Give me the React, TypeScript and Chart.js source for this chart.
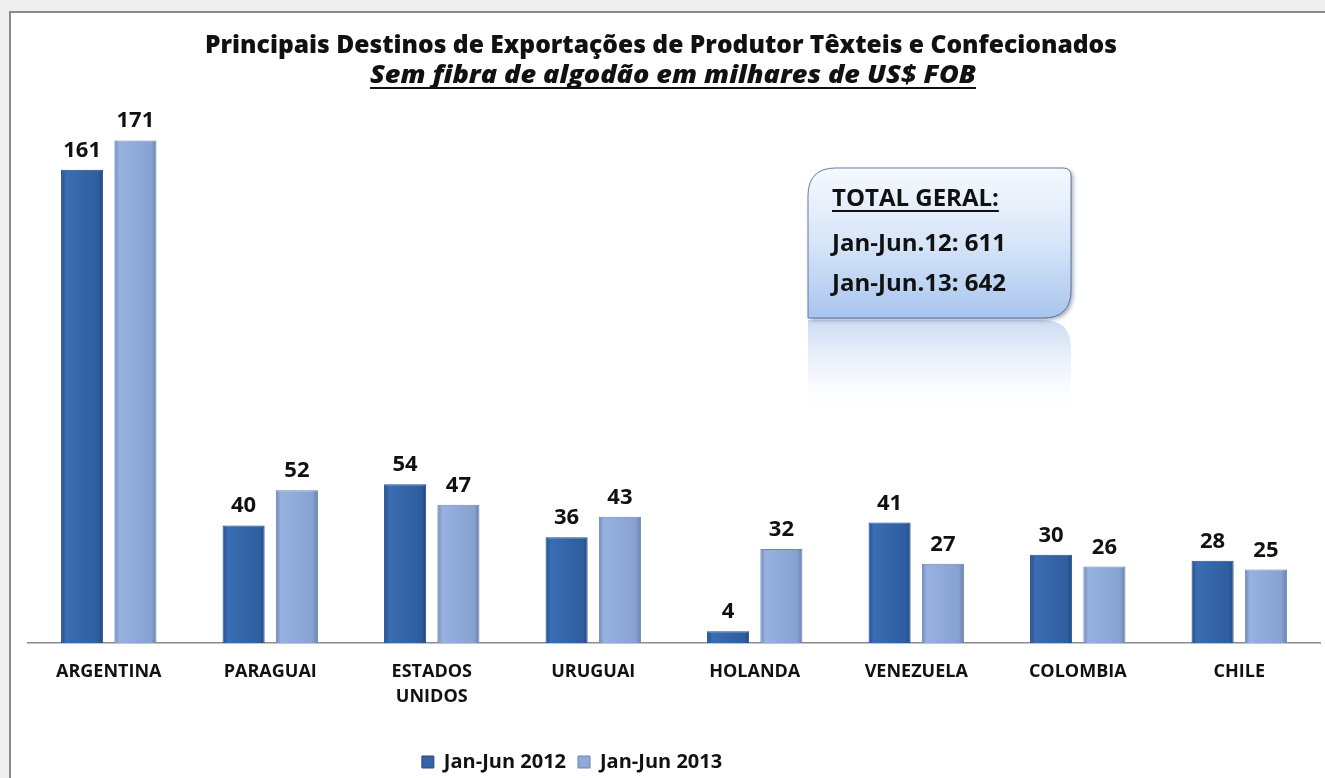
import React, { useEffect, useRef } from "react";
import { Chart, registerables } from "chart.js";

Chart.register(...registerables);

const categories: (string | string[])[] = [
  "ARGENTINA",
  "PARAGUAI",
  ["ESTADOS", "UNIDOS"],
  "URUGUAI",
  "HOLANDA",
  "VENEZUELA",
  "COLOMBIA",
  "CHILE",
];
const series2012 = [161, 40, 54, 36, 4, 41, 30, 28];
const series2013 = [171, 52, 47, 43, 32, 27, 26, 25];
const seriesNames = ["Jan-Jun 2012", "Jan-Jun 2013"];
const titleText = "Principais Destinos de Exportações de Produtor Têxteis e Confecionados";
const subtitleText = "Sem fibra de algodão em milhares de US$ FOB";
const totalTitle = "TOTAL GERAL:";
const totalLines = ["Jan-Jun.12: 611", "Jan-Jun.13: 642"];

const FONT = "'Open Sans', sans-serif";

function barGradient(ctx: any, dark: boolean) {
  const chart = ctx.chart;
  const x = chart.scales?.x;
  if (!x || !chart.chartArea) return dark ? "#3565A8" : "#8EA9D8";
  const c = x.getPixelForValue(ctx.dataIndex);
  const center = c + (dark ? -26.5 : 26.5);
  const half = 21;
  const g = chart.ctx.createLinearGradient(center - half, 0, center + half, 0);
  if (dark) {
    g.addColorStop(0, "#24508e");
    g.addColorStop(0.12, "#3a6db3");
    g.addColorStop(0.5, "#3465a8");
    g.addColorStop(0.88, "#2f5e9f");
    g.addColorStop(1, "#1f4780");
  } else {
    g.addColorStop(0, "#6d88b8");
    g.addColorStop(0.12, "#97b2df");
    g.addColorStop(0.5, "#8eaad9");
    g.addColorStop(0.88, "#87a2d1");
    g.addColorStop(1, "#6780ad");
  }
  return g;
}

function fitText(ctx: CanvasRenderingContext2D, text: string, left: number, right: number, y: number, underline: boolean) {
  const w = ctx.measureText(text).width;
  const sx = (right - left) / w;
  ctx.save();
  ctx.translate(left, y);
  ctx.scale(sx, 1);
  ctx.textAlign = "left";
  ctx.fillText(text, 0, 0);
  if (underline) ctx.fillRect(0, 4, w, 2);
  ctx.restore();
}

const decorPlugin = {
  id: "decor",
  afterLayout(chart: any) {
    if (chart.legend) {
      chart.legend.left -= 102;
      chart.legend.right -= 102;
    }
  },
  afterDatasetsDraw(chart: any) {
    const ctx = chart.ctx;
    ctx.save();
    ctx.font = `bold 22px ${FONT}`;
    ctx.fillStyle = "#111";
    ctx.textAlign = "center";
    ctx.textBaseline = "alphabetic";
    chart.data.datasets.forEach((ds: any, di: number) => {
      const meta = chart.getDatasetMeta(di);
      meta.data.forEach((bar: any, i: number) => {
        ctx.fillText(String(ds.data[i]), bar.x, bar.y - 13);
      });
    });
    ctx.restore();
  },
  afterDraw(chart: any) {
    const ctx = chart.ctx;
    ctx.save();
    ctx.fillStyle = "#111";
    ctx.textBaseline = "alphabetic";
    ctx.font = `800 24px ${FONT}`;
    fitText(ctx, titleText, 205, 1117, 53, false);
    ctx.font = `italic 800 24px ${FONT}`;
    fitText(ctx, subtitleText, 370, 976, 83, true);

    const bx = 808, by = 168, bw = 263, bh = 150;
    const pathBox = (y0: number, h: number) => {
      ctx.beginPath();
      ctx.moveTo(bx + 28, y0);
      ctx.lineTo(bx + bw - 8, y0);
      ctx.quadraticCurveTo(bx + bw, y0, bx + bw, y0 + 8);
      ctx.lineTo(bx + bw, y0 + h - 28);
      ctx.quadraticCurveTo(bx + bw, y0 + h, bx + bw - 28, y0 + h);
      ctx.lineTo(bx, y0 + h);
      ctx.lineTo(bx, y0 + 28);
      ctx.quadraticCurveTo(bx, y0, bx + 28, y0);
      ctx.closePath();
    };
    ctx.save();
    ctx.translate(0, 2 * (by + bh) + 2);
    ctx.scale(1, -1);
    pathBox(by, bh);
    const rg = ctx.createLinearGradient(0, by + bh, 0, by + bh - 95);
    rg.addColorStop(0, "rgba(160,190,232,0.55)");
    rg.addColorStop(0.6, "rgba(200,218,245,0.2)");
    rg.addColorStop(1, "rgba(255,255,255,0)");
    ctx.fillStyle = rg;
    ctx.fill();
    ctx.restore();
    ctx.save();
    ctx.shadowColor = "rgba(40,60,100,0.45)";
    ctx.shadowBlur = 4;
    ctx.shadowOffsetX = 2;
    ctx.shadowOffsetY = 2;
    pathBox(by, bh);
    const g = ctx.createLinearGradient(0, by, 0, by + bh);
    g.addColorStop(0, "#f6f9fe");
    g.addColorStop(0.5, "#d7e5f8");
    g.addColorStop(1, "#a8c5ee");
    ctx.fillStyle = g;
    ctx.fill();
    ctx.restore();
    pathBox(by, bh);
    ctx.strokeStyle = "rgba(70,95,140,0.8)";
    ctx.lineWidth = 1;
    ctx.stroke();

    ctx.fillStyle = "#111";
    ctx.textAlign = "left";
    ctx.font = `bold 24px ${FONT}`;
    ctx.fillText(totalTitle, 832, 206);
    const tw = ctx.measureText(totalTitle).width;
    ctx.fillRect(832, 210, tw, 2);
    ctx.fillText(totalLines[0], 832, 251);
    ctx.fillText(totalLines[1], 832, 291);
    ctx.restore();
  },
};

export default function App() {
  const ref = useRef<HTMLCanvasElement>(null);
  useEffect(() => {
    document.body.style.margin = "0";
    const chart = new Chart(ref.current!, {
      type: "bar",
      data: {
        labels: categories,
        datasets: [
          {
            label: seriesNames[0],
            data: series2012,
            backgroundColor: (c: any) => barGradient(c, true),
            borderColor: "#234a86",
            borderWidth: 1,
            categoryPercentage: 0.66,
            barPercentage: 0.79,
          },
          {
            label: seriesNames[1],
            data: series2013,
            backgroundColor: (c: any) => barGradient(c, false),
            borderColor: "#6a84b3",
            borderWidth: 1,
            categoryPercentage: 0.66,
            barPercentage: 0.79,
          },
        ],
      },
      options: {
        animation: false,
        responsive: false,
        maintainAspectRatio: false,
        layout: { padding: { top: 114, left: 28, right: 5, bottom: 0 } },
        scales: {
          x: {
            grid: { display: false, drawTicks: false },
            border: { display: true, color: "#8c8c8c", width: 1.5 },
            ticks: {
              color: "#111",
              font: { family: FONT, weight: "bold", size: 18, lineHeight: 1.35 },
              padding: 17,
              maxRotation: 0,
              autoSkip: false,
            },
            afterFit: (s: any) => {
              s.height = 97;
            },
          },
          y: {
            display: false,
            min: 0,
            max: 180,
          },
        },
        plugins: {
          legend: {
            position: "bottom",
            labels: {
              color: "#111",
              font: { family: FONT, weight: "bold", size: 20 },
              boxWidth: 12,
              boxHeight: 12,
              padding: 12,
              generateLabels: (ch: any) =>
                ch.data.datasets.map((d: any, i: number) => ({
                  text: d.label,
                  fillStyle: i === 0 ? "#3565a8" : "#8eaad9",
                  strokeStyle: i === 0 ? "#234a86" : "#6a84b3",
                  lineWidth: 1,
                  datasetIndex: i,
                  fontColor: "#111",
                })),
            },
          },
          tooltip: { enabled: false },
        },
      },
      plugins: [decorPlugin],
    });
    return () => chart.destroy();
  }, []);
  return (
    <div
      style={{
        position: "fixed",
        left: 0,
        top: 0,
        width: 1325,
        height: 778,
        background: "#efefef",
        overflow: "hidden",
      }}
    >
      <div
        style={{
          position: "absolute",
          left: 9,
          top: 11,
          width: 1314,
          height: 765,
          background: "#fff",
          borderLeft: "2px solid #8a8a8a",
          borderTop: "2px solid #8a8a8a",
        }}
      />
      <canvas ref={ref} width={1325} height={782} style={{ position: "absolute", left: 0, top: 0 }} />
    </div>
  );
}
